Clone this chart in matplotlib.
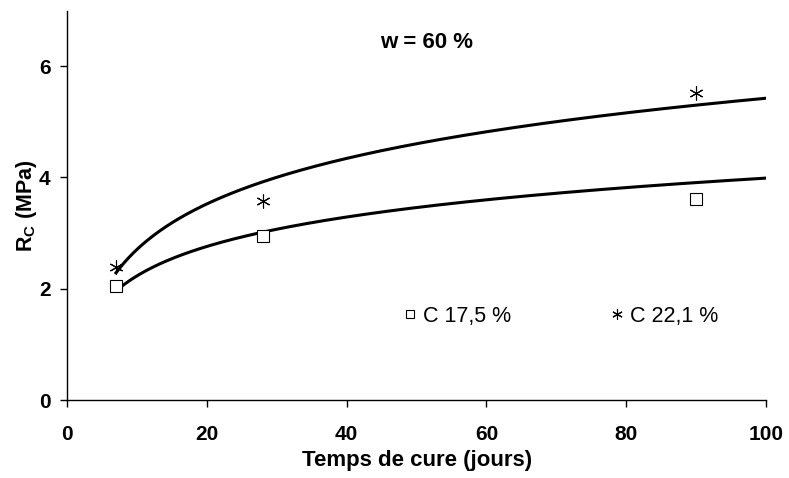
import numpy as np
import matplotlib
matplotlib.use("Agg")
import matplotlib.pyplot as plt

plt.rcParams["font.family"] = ["Liberation Sans", "DejaVu Sans"]
plt.rcParams["mathtext.fontset"] = "custom"
plt.rcParams["mathtext.rm"] = "Liberation Sans"
plt.rcParams["mathtext.bf"] = "Liberation Sans:bold"
plt.rcParams["mathtext.default"] = "bf"

# mesures
jours   = [7, 28, 90]
c175    = [2.05, 2.94, 3.62]
c221    = [2.40, 3.57, 5.51]
labels  = ["C 17,5 %", "C 22,1 %"]

# courbes de tendance logarithmiques y = a*ln(x) + b
tend_c175 = (0.763, 0.475)
tend_c221 = (1.18, -0.01)

x_fit = np.linspace(7, 100, 300)

fig, ax = plt.subplots(figsize=(7.89, 4.78), dpi=100)
fig.subplots_adjust(left=0.085, right=0.971, bottom=0.163, top=0.978)

for a, b in (tend_c175, tend_c221):
    ax.plot(x_fit, a * np.log(x_fit) + b, color="black", linewidth=2.2)

p1, = ax.plot(jours, c175, linestyle="none", marker="s", markersize=8,
              markerfacecolor="white", markeredgecolor="black", markeredgewidth=0.8)
p2, = ax.plot(jours, c221, linestyle="none", marker=(6, 2, 0), markersize=10,
              color="black", markeredgewidth=0.8)

leg = ax.legend([p1, p2], labels, ncol=2, frameon=False, loc="center left",
                bbox_to_anchor=(0.483, 0.215), fontsize=15.5, markerscale=0.75,
                handlelength=0.5, handletextpad=0.35, columnspacing=4.65,
                borderaxespad=0, borderpad=0)

ax.text(51.4, 6.43, "w = 60 %", ha="center", va="center", fontsize=16, fontweight="bold")

ax.set_xlim(0, 100)
ax.set_ylim(0, 7)
ax.set_xticks(range(0, 101, 20))
ax.set_yticks([0, 2, 4, 6])
ax.tick_params(direction="out", length=5, width=1, labelsize=15)
ax.tick_params(axis="x", pad=13)
ax.tick_params(axis="y", pad=7)
for lab in ax.get_xticklabels() + ax.get_yticklabels():
    lab.set_fontweight("bold")
ax.set_xlabel("Temps de cure (jours)", fontsize=16, fontweight="bold", labelpad=4)
ax.set_ylabel("R$_C$ (MPa)", fontsize=15.5, fontweight="bold", labelpad=0)
ax.spines[["top", "right"]].set_visible(False)
ax.spines[["left", "bottom"]].set_linewidth(1)

fig.savefig("out.png", dpi=100)
